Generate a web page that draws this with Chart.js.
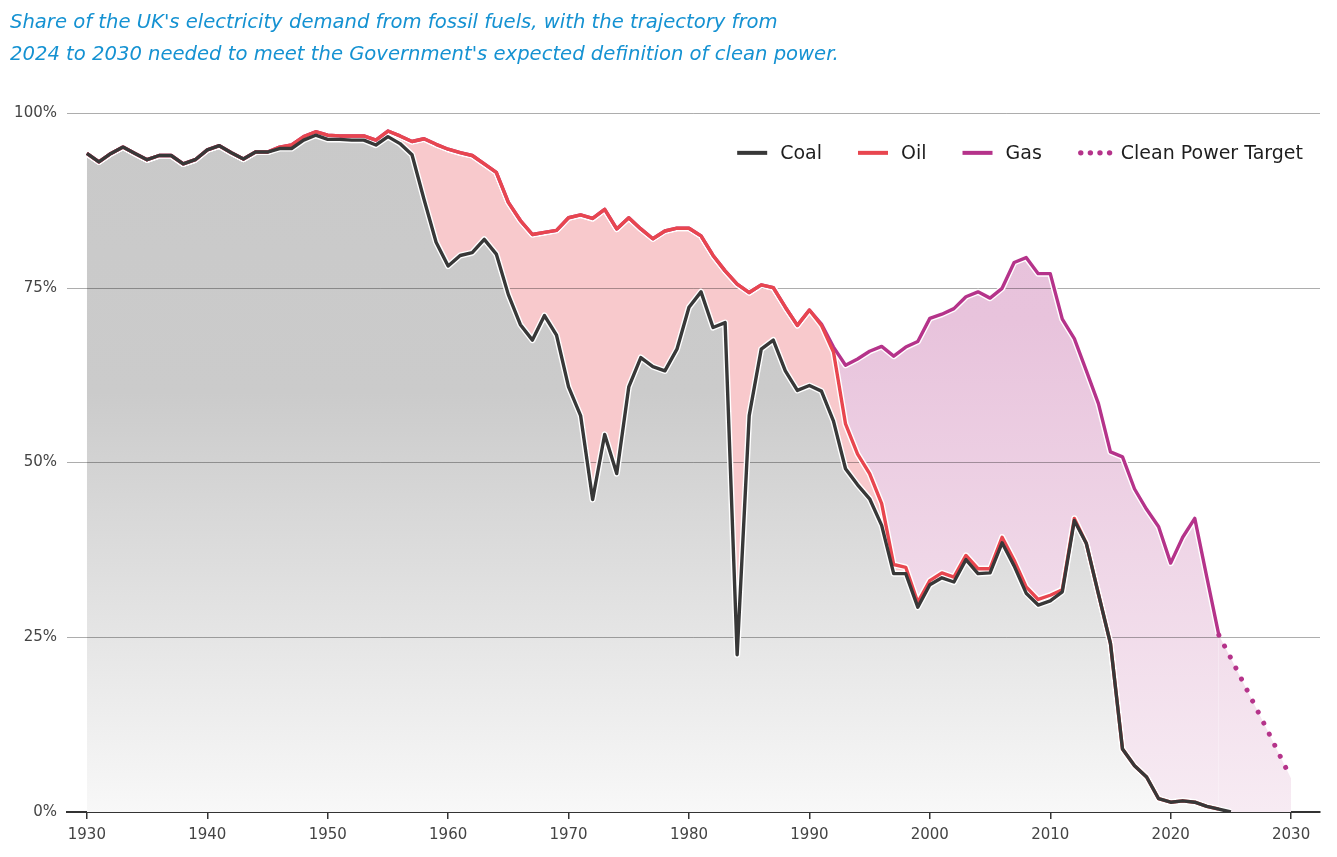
<!DOCTYPE html>
<html>
<head>
<meta charset="utf-8">
<script src="https://cdn.jsdelivr.net/npm/chart.js@4.4.1/dist/chart.umd.min.js"></script>
<style>
html,body{margin:0;padding:0;background:#fff;}
#wrap{width:1337px;height:857px;position:relative;}
</style>
</head>
<body>
<div id="wrap"><canvas id="c" width="1337" height="857"></canvas></div>
<script>
// ---------- DATA ----------
const titleLines = [
  "Share of the UK's electricity demand from fossil fuels, with the trajectory from",
  "2024 to 2030 needed to meet the Government's expected definition of clean power."
];
const years = [1930,1931,1932,1933,1934,1935,1936,1937,1938,1939,
  1940,1941,1942,1943,1944,1945,1946,1947,1948,1949,
  1950,1951,1952,1953,1954,1955,1956,1957,1958,1959,
  1960,1961,1962,1963,1964,1965,1966,1967,1968,1969,
  1970,1971,1972,1973,1974,1975,1976,1977,1978,1979,
  1980,1981,1982,1983,1984,1985,1986,1987,1988,1989,
  1990,1991,1992,1993,1994,1995,1996,1997,1998,1999,
  2000,2001,2002,2003,2004,2005,2006,2007,2008,2009,
  2010,2011,2012,2013,2014,2015,2016,2017,2018,2019,
  2020,2021,2022,2023,2024,2025];
// share of demand met by coal (%), 1930-2025
const coalShare = [94.2,93.0,94.2,95.1,94.2,93.3,93.9,93.9,92.7,93.3,
  94.7,95.3,94.3,93.4,94.4,94.4,94.9,94.9,96.1,96.8,
  96.2,96.2,96.1,96.1,95.4,96.6,95.6,94.0,87.6,81.5,
  78.1,79.6,80.0,81.9,79.8,74.0,69.7,67.5,71.0,68.2,
  60.8,56.7,44.7,54.0,48.4,60.8,65.0,63.7,63.1,66.2,
  72.2,74.4,69.3,70.0,22.5,56.7,66.2,67.5,63.1,60.3,
  61.0,60.2,55.9,49.1,46.8,44.8,41.0,34.1,34.1,29.3,
  32.5,33.5,32.9,36.1,34.1,34.2,38.5,35.2,31.3,29.6,
  30.2,31.5,41.7,38.4,31.2,24.1,9.0,6.6,5.0,1.9,
  1.4,1.6,1.4,0.8,0.4,0.0];
// share of demand met by oil (%), 1930-2024
const oilShare = [0,0,0,0,0,0,0,0,0,0,
  0,0,0,0,0,0,0.2,0.5,0.5,0.5,
  0.6,0.5,0.6,0.6,0.7,0.8,1.1,1.9,8.7,14.0,
  16.7,14.7,13.9,10.8,11.7,13.2,14.9,15.1,11.9,15.0,
  24.2,28.7,40.2,32.2,35.0,24.2,18.4,18.3,20.0,17.3,
  11.3,8.0,10.3,7.4,53.0,17.6,9.2,7.5,9.1,9.3,
  10.8,9.4,9.9,6.4,4.4,3.6,3.1,1.3,0.9,0.7,
  0.6,0.7,0.7,0.6,0.7,0.6,0.8,0.8,0.9,0.8,
  0.8,0.3,0.3,0,0,0,0,0,0,0,
  0,0,0,0,0];
// share of demand met by gas (%), 1930-2024
const gasShare = [0,0,0,0,0,0,0,0,0,0,
  0,0,0,0,0,0,0,0,0,0,
  0,0,0,0,0,0,0,0,0,0,
  0,0,0,0,0,0,0,0,0,0,
  0,0,0,0,0,0,0,0,0,0,
  0,0,0,0,0,0,0,0,0,0,
  0,0.2,0.7,8.4,13.6,17.5,22.5,29.8,31.5,37.3,
  37.5,37.0,38.4,37.0,39.6,38.7,35.6,42.6,47.1,46.6,
  46.0,38.7,25.7,24.7,27.2,27.4,41.8,39.6,38.3,38.9,
  34.2,37.7,40.6,32.8,24.9];
// clean power target trajectory: total fossil share (%)
const targetYears = [2024,2025,2026,2027,2028,2029,2030];
const targetShare = [25.3,22.0,18.6,15.2,11.8,8.3,4.8];
const xTicks = [1930,1940,1950,1960,1970,1980,1990,2000,2010,2020,2030];
const yTicks = [0,25,50,75,100];
const seriesLabels = ['Coal','Oil','Gas','Clean Power Target'];
const seriesColors = ['#383838','#e8464f','#b5338a','#b5338a'];

// ---------- BUILD ----------
const oilTop = oilShare.map((v,i)=>coalShare[i]+v);
const gasTop = gasShare.map((v,i)=>oilTop[i]+v);
const pts = (xs, vs) => vs.map((v,i)=>({x:xs[i], y:v}));

function grad(stops){
  return (c)=>{
    const a = c.chart.chartArea;
    if(!a) return 'rgba(0,0,0,0)';
    const g = c.chart.ctx.createLinearGradient(0,a.top,0,a.bottom);
    stops.forEach(s=>g.addColorStop(s[0],s[1]));
    return g;
  };
}

const FONT = "'DejaVu Sans', 'Noto Sans', sans-serif";
Chart.defaults.font.family = FONT;

const base = {pointRadius:0, pointHoverRadius:0, tension:0, borderJoinStyle:'round', borderCapStyle:'butt'};
const LW = 3.4, HW = 6.2;
const gasFill = grad([[0,'#e7c1db'],[0.3,'#e8c3dc'],[1,'#f7ebf3']]);

const datasets = [
  Object.assign({}, base, {label:seriesLabels[0], data:pts(years,coalShare), borderColor:seriesColors[0], borderWidth:LW,
    fill:'origin', backgroundColor:grad([[0,'#c9c9c9'],[0.4,'#cbcbcb'],[1,'#f8f8f8']]), order:1}),
  Object.assign({}, base, {label:seriesLabels[1], data:pts(years,oilTop), borderColor:seriesColors[1], borderWidth:LW,
    fill:0, backgroundColor:'#f8c9cc', order:2}),
  Object.assign({}, base, {label:seriesLabels[2], data:pts(years,gasTop), borderColor:seriesColors[2], borderWidth:LW,
    fill:1, backgroundColor:gasFill, order:3}),
  Object.assign({}, base, {label:seriesLabels[3], data:pts(targetYears,targetShare), borderColor:seriesColors[3], borderWidth:5,
    borderDash:[0.001,12.35], borderCapStyle:'round', fill:'origin', backgroundColor:gasFill, order:4}),
  Object.assign({}, base, {label:'_h0', data:pts(years,coalShare), borderColor:'#ffffff', borderWidth:HW, fill:false, order:10}),
  Object.assign({}, base, {label:'_h1', data:pts(years,oilTop), borderColor:'#ffffff', borderWidth:HW, fill:false, order:11}),
  Object.assign({}, base, {label:'_h2', data:pts(years,gasTop), borderColor:'#ffffff', borderWidth:HW, fill:false, order:12})
];

// grid lines drawn above the fills but below the lines
const gridPlugin = {
  id:'gridAboveFill',
  beforeDatasetsDraw(chart){
    const {ctx, chartArea:a, scales:{y}} = chart;
    ctx.save();
    ctx.strokeStyle = 'rgba(0,0,0,0.32)';
    ctx.lineWidth = 1;
    yTicks.forEach(t=>{
      if(t===0) return;
      const py = Math.round(y.getPixelForValue(t))+0.5;
      ctx.beginPath(); ctx.moveTo(a.left,py); ctx.lineTo(a.right,py); ctx.stroke();
    });
    ctx.restore();
  }
};

const legendPlugin = {
  id:'customLegend',
  afterDraw(chart){
    const {ctx, chartArea:a} = chart;
    ctx.save();
    ctx.font = "19px " + FONT;
    ctx.textBaseline = 'middle';
    const sample = 30, gap = 13, sep = 36;
    let total = 0;
    seriesLabels.forEach((l,i)=>{ total += sample + gap + ctx.measureText(l).width + (i<seriesLabels.length-1?sep:0); });
    let x = a.right - 17 - total;
    const y = a.top + 40;
    seriesLabels.forEach((l,i)=>{
      ctx.fillStyle = seriesColors[i];
      if(i===3){
        for(let k=0;k<4;k++){ ctx.beginPath(); ctx.arc(x+3+k*9.6, y, 2.7, 0, Math.PI*2); ctx.fill(); }
      } else {
        ctx.fillRect(x, y-2, sample, 4);
      }
      x += sample + gap;
      ctx.fillStyle = '#1e1e1e';
      ctx.fillText(l, x, y+1);
      x += ctx.measureText(l).width + sep;
    });
    ctx.restore();
  }
};

new Chart(document.getElementById('c'), {
  type:'line',
  data:{datasets},
  options:{
    responsive:false,
    animation:false,
    events:[],
    layout:{padding:{left:10,right:17,top:0,bottom:0}},
    plugins:{
      legend:{display:false},
      tooltip:{enabled:false},
      filler:{drawTime:'beforeDatasetsDraw'},
      title:{display:true, text:titleLines, align:'start', color:'#1592d2',
        font:{size:19.6, style:'italic', weight:'normal', lineHeight:1.68}, padding:{top:6,bottom:41}}
    },
    scales:{
      x:{type:'linear', min:1928.35, max:2032.4,
        afterBuildTicks:s=>{ s.ticks = xTicks.map(v=>({value:v})); },
        afterFit:s=>{ s.height = 45; },
        ticks:{callback:v=>String(v), color:'#444', font:{size:15}, padding:7, maxRotation:0, autoSkip:false},
        grid:{display:true, drawOnChartArea:false, drawTicks:true, tickLength:7, color:'#333', lineWidth:1.5},
        border:{display:true, color:'#333', width:2}
      },
      y:{min:0, max:100,
        afterBuildTicks:s=>{ s.ticks = yTicks.map(v=>({value:v})); },
        afterFit:s=>{ s.width = 57; },
        ticks:{callback:v=>v+'%', color:'#444', font:{size:15}, padding:10},
        grid:{display:false, drawTicks:false},
        border:{display:false}
      }
    }
  },
  plugins:[gridPlugin, legendPlugin]
});
</script>
</body>
</html>
